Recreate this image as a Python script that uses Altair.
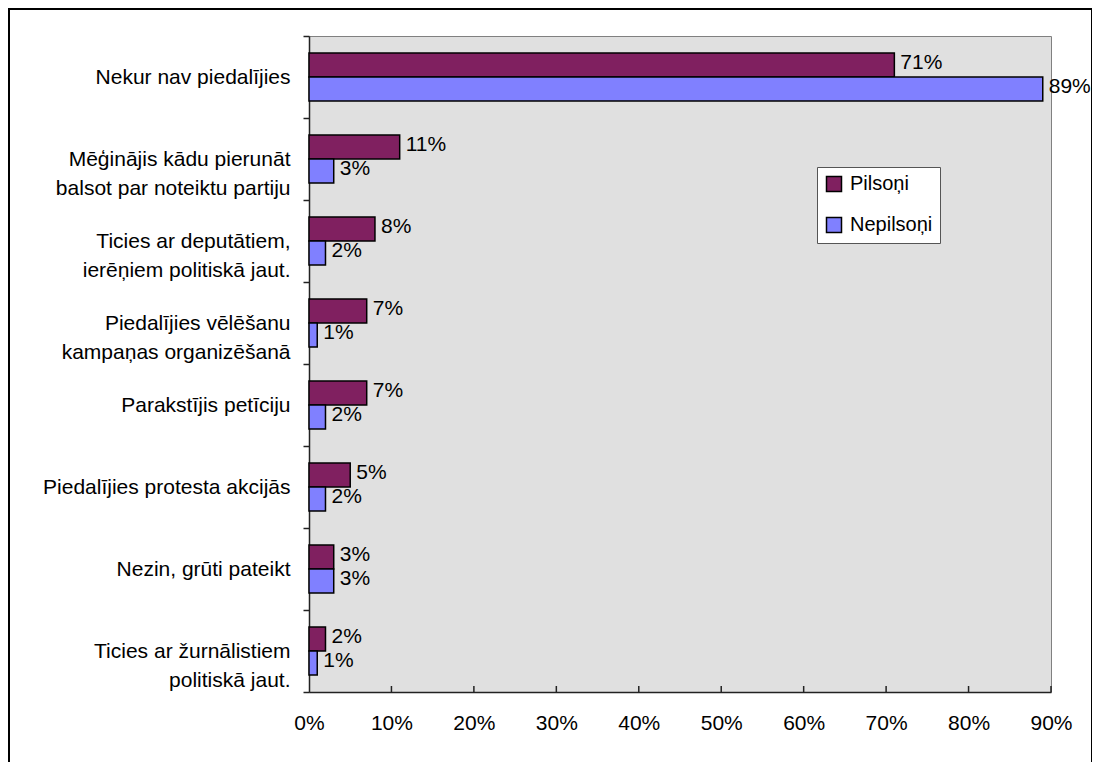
import altair as alt
import pandas as pd

categories = [
    "Nekur nav piedalījies",
    "Mēģinājis kādu pierunāt\nbalsot par noteiktu partiju",
    "Ticies ar deputātiem,\nierēņiem politiskā jaut.",
    "Piedalījies vēlēšanu\nkampaņas organizēšanā",
    "Parakstījis petīciju",
    "Piedalījies protesta akcijās",
    "Nezin, grūti pateikt",
    "Ticies ar žurnālistiem\npolitiskā jaut.",
]
series = ["Pilsoņi", "Nepilsoņi"]
pilsoni = [71, 11, 8, 7, 7, 5, 3, 2]
nepilsoni = [89, 3, 2, 1, 2, 2, 3, 1]
x_ticks = [0, 10, 20, 30, 40, 50, 60, 70, 80, 90]
colors = ["#802060", "#8080FF"]

FONT = "Liberation Sans"

rows = []
for i, c in enumerate(categories):
    rows.append({"category": c, "series": series[0], "value": pilsoni[i] / 100})
    rows.append({"category": c, "series": series[1], "value": nepilsoni[i] / 100})
df = pd.DataFrame(rows)
tick_df = pd.DataFrame({"value": [t / 100 for t in x_ticks[1:]]})

x_enc = alt.X(
    "value:Q",
    scale=alt.Scale(domain=[0, 0.9], nice=False, zero=True),
    axis=alt.Axis(
        title=None,
        format="%",
        values=[t / 100 for t in x_ticks],
        grid=False,
        ticks=False,
        tickSize=0,
        labelFontSize=21,
        labelFont=FONT,
        labelColor="black",
        labelBaseline="alphabetic",
        labelPadding=37,
        labelFlush=False,
        labelOverlap=False,
        domainColor="#222222",
        domainWidth=1.5,
    ),
)
y_enc = alt.Y(
    "category:N",
    sort=categories,
    scale=alt.Scale(paddingInner=0, paddingOuter=0),
    axis=alt.Axis(
        title=None,
        labelExpr="split(datum.label, '\\n')",
        labelFontSize=21,
        labelFont=FONT,
        labelColor="black",
        labelLineHeight=29,
        labelPadding=13,
        labelLimit=500,
        tickBand="extent",
        tickSize=6,
        tickColor="#222222",
        tickWidth=1.5,
        domainColor="#222222",
        domainWidth=1.5,
        grid=False,
    ),
)
yoff_enc = alt.YOffset(
    "series:N", sort=series, scale=alt.Scale(paddingInner=0, paddingOuter=0.71)
)

base = alt.Chart(df)

bars = base.mark_bar(stroke="black", strokeWidth=1.5).encode(
    x=x_enc,
    y=y_enc,
    yOffset=yoff_enc,
    color=alt.Color(
        "series:N",
        sort=series,
        scale=alt.Scale(domain=series, range=colors),
        legend=alt.Legend(
            title=None,
            orient="none",
            legendX=508,
            legendY=131,
            direction="vertical",
            fillColor="white",
            strokeColor="#555555",
            padding=7,
            symbolType="square",
            symbolSize=225,
            symbolStrokeColor="black",
            symbolStrokeWidth=1.5,
            labelFontSize=20,
            labelFont=FONT,
            labelColor="black",
            labelOffset=6,
            rowPadding=19,
        ),
    ),
)

labels = base.mark_text(
    align="left", baseline="middle", dx=6, dy=-2, fontSize=21, font=FONT, color="black"
).encode(
    x=alt.X("value:Q"),
    y=alt.Y("category:N", sort=categories),
    yOffset=yoff_enc,
    text=alt.Text("value:Q", format=".0%"),
)

ticks = alt.Chart(tick_df).mark_rule(color="#222222", strokeWidth=1.5).encode(
    x=alt.X("value:Q"), y=alt.value(650), y2=alt.value(656)
)

border = alt.Chart(pd.DataFrame({"a": [0]})).mark_rect(
    filled=False, stroke="black", strokeWidth=2
).encode(x=alt.value(-300), x2=alt.value(783), y=alt.value(-27), y2=alt.value(760))

chart = (
    alt.layer(bars, labels, ticks, border)
    .properties(
        width=742,
        height=656,
        padding={"left": 301, "top": 28, "right": 41, "bottom": 70},
        autosize=alt.AutoSizeParams(type="none"),
    )
    .configure_view(fill="#E0E0E0", stroke="#808080", strokeWidth=1)
)

chart.save("out.html", embed_options={"renderer": "svg", "actions": False})
